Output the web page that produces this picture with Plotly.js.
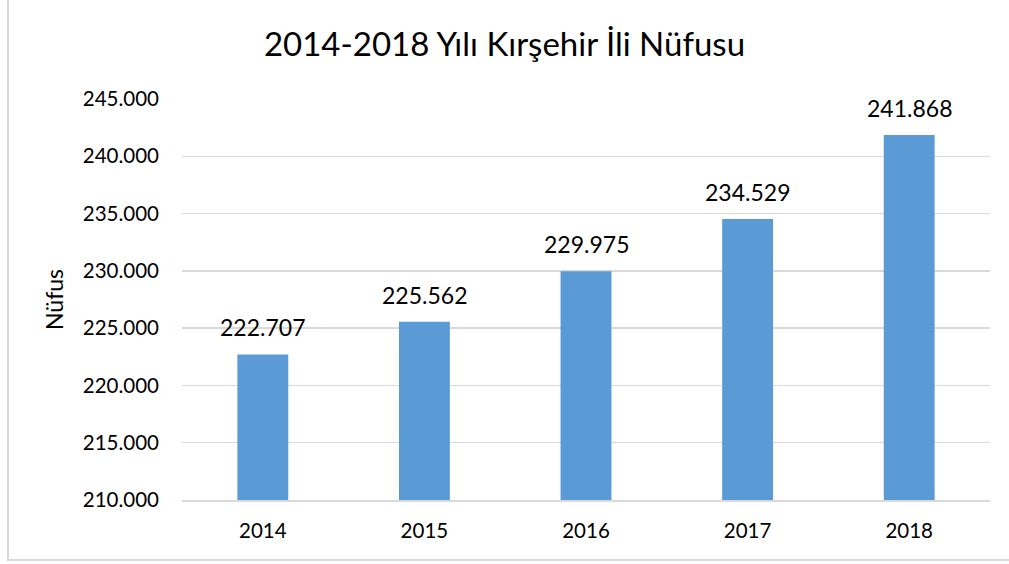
<!DOCTYPE html>
<html>
<head>
<meta charset="utf-8">
<script src="https://cdn.plot.ly/plotly-3.0.1.min.js"></script>
<style>
html,body{margin:0;padding:0;background:#fff;overflow:hidden;}
#frame{position:absolute;left:7px;top:-3px;width:1010px;height:564px;border-left:2px solid #d9d9d9;border-bottom:2px solid #d9d9d9;box-sizing:border-box;}
#chart{position:absolute;left:0;top:0;width:1009px;height:564px;}
</style>
</head>
<body>
<div id="frame"></div>
<div id="chart"></div>
<script>
const years = ["2014", "2015", "2016", "2017", "2018"];
const population = [222707, 225562, 229975, 234529, 241868];
const yTicks = [210000, 215000, 220000, 225000, 230000, 235000, 240000, 245000];

const font = "Lato, 'Open Sans', sans-serif";

function fmt(v) {
  return String(v).replace(/\B(?=(\d{3})+(?!\d))/g, '.');
}

// category axis: annotation x given as category index
const labels = years.map((yr, i) => ({
  x: i, y: population[i], xref: 'x', yref: 'y',
  text: fmt(population[i]), showarrow: false,
  yanchor: 'bottom', yshift: 11,
  font: {family: font, size: 23, color: '#000'}
}));

Plotly.newPlot('chart', [{
  type: 'bar',
  x: years,
  y: population,
  marker: {color: '#5B9BD5'},
  hoverinfo: 'skip'
}], {
  width: 1009, height: 564,
  separators: ',.',
  paper_bgcolor: 'rgba(0,0,0,0)',
  plot_bgcolor: 'rgba(0,0,0,0)',
  margin: {l: 182, r: 19, t: 99, b: 64},
  bargap: 0.685,
  showlegend: false,
  annotations: labels,
  title: {text: '2014-2018 Yılı Kırşehir İli Nüfusu', font: {family: font, size: 33, color: '#000'}, x: 0.5, xanchor: 'center', y: 0.922, yanchor: 'middle'},
  xaxis: {
    type: 'category',
    tickfont: {family: font, size: 20.5, color: '#000'},
    showline: true, linecolor: '#d9d9d9', linewidth: 1.5,
    ticks: '', ticklabelstandoff: 12,
    fixedrange: true
  },
  yaxis: {
    range: [210000, 245000],
    tickvals: yTicks,
    tickformat: ',d',
    tickfont: {family: font, size: 20.5, color: '#000'},
    gridcolor: '#d9d9d9', gridwidth: 1.5,
    zeroline: false,
    ticks: '', ticklabelstandoff: 22,
    title: {text: 'Nüfus', font: {family: font, size: 23, color: '#000'}, standoff: 12},
    automargin: false,
    fixedrange: true
  }
}, {displayModeBar: false, staticPlot: true});
</script>
</body>
</html>
